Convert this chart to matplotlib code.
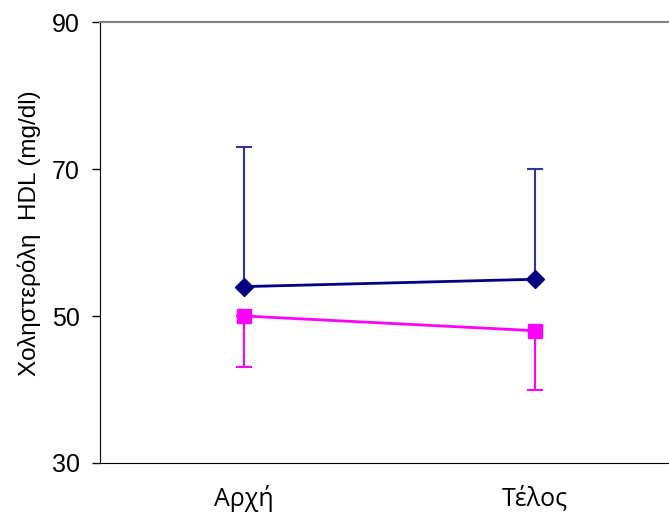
import matplotlib
matplotlib.use('Agg')
import matplotlib.pyplot as plt
import numpy as np

categories = ['Αρχή', 'Τέλος']
hdl_a = [54, 55]
hdl_a_err = [19, 15]      # upper error only
hdl_b = [50, 48]
hdl_b_err = [7, 8]        # lower error only
yticks = [30, 50, 70, 90]

plt.rcParams['font.family'] = ['Liberation Sans', 'DejaVu Sans']

fig = plt.figure(figsize=(6.69, 5.19), dpi=100)
ax = fig.add_axes([0.1495, 0.1079, 0.8505, 0.8497])

x = np.arange(len(categories))

ax.errorbar(x, hdl_a, yerr=[np.zeros(len(x)), hdl_a_err], fmt='none',
            ecolor='#333399', elinewidth=1.5, capsize=5.5, capthick=1.5, zorder=2)
ax.plot(x, hdl_a, color='#000080', lw=2, marker='D', ms=9, zorder=3)

ax.errorbar(x, hdl_b, yerr=[hdl_b_err, np.zeros(len(x))], fmt='none',
            ecolor='#FF00FF', elinewidth=1.5, capsize=5.5, capthick=1.5, zorder=2)
ax.plot(x, hdl_b, color='#FF00FF', lw=2, marker='s', ms=9.5, zorder=3)

ax.set_xlim(-0.495, 1.46)
ax.set_ylim(30, 90)
ax.set_yticks(yticks)
ax.tick_params(axis='y', direction='out', length=6, width=1, labelsize=18, pad=8.5)
ax.set_xticks(x)
ax.set_xticklabels(categories, family=['Open Sans', 'DejaVu Sans'], fontsize=18)
ax.tick_params(axis='x', length=0, pad=16)

ax.spines['right'].set_visible(False)
ax.spines['top'].set_color('#808080')
ax.spines['top'].set_linewidth(1.5)
ax.spines['left'].set_color('black')
ax.spines['bottom'].set_color('black')

ax.set_ylabel('Χοληστερόλη  HDL (mg/dl)', fontsize=17.5)
ax.yaxis.set_label_coords(-0.104, 0.5215)

fig.savefig('out.png', dpi=100)
